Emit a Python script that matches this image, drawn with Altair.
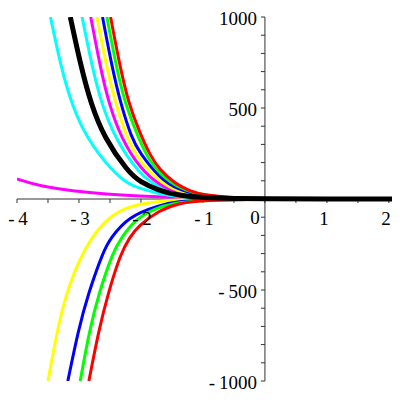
import altair as alt
import pandas as pd

# ---- data ----
X_DOMAIN = [-4.0, 2.05]
Y_DOMAIN = [-1000, 1000]

# positive branches
RED_X = [-2.49, -2.34, -2.20, -2.02, -1.86, -1.70, -1.45, -1.22, -1.0, -0.5, 0.0, 1.0, 2.05]
RED_Y = [1000, 730, 526, 365, 245, 160, 85, 45, 22, 6, 2, 0.3, 0]
GREEN_X = [-2.55, -2.40, -2.26, -2.02, -1.86, -1.70, -1.40, -1.0, -0.5, 0.0, 1.0, 2.05]
GREEN_Y = [1000, 730, 526, 315, 210, 140, 60, 20, 5, 2, 0.3, 0]
BLUE_X = [-2.62, -2.47, -2.33, -2.15, -2.02, -1.70, -1.40, -1.0, -0.5, 0.0, 1.0, 2.05]
BLUE_Y = [1000, 730, 526, 334, 253, 115, 50, 17, 4, 1.5, 0.2, 0]
YELLOW_X = [-2.71, -2.56, -2.41, -2.23, -2.02, -1.70, -1.40, -1.0, -0.5, 0.0, 1.0, 2.05]
YELLOW_Y = [1000, 730, 526, 334, 205, 95, 40, 14, 4, 1.2, 0.2, 0]
MAGENTA_X = [-2.81, -2.66, -2.52, -2.32, -2.02, -1.70, -1.40, -1.0, -0.5, 0.0, 1.0, 2.05]
MAGENTA_Y = [1000, 730, 526, 334, 170, 75, 32, 11, 3, 1, 0.1, 0]
CYAN2_X = [-2.95, -2.79, -2.64, -2.42, -2.02, -1.70, -1.40, -1.0, -0.5, 0.0, 1.0, 2.05]
CYAN2_Y = [1000, 730, 526, 334, 132, 60, 26, 9, 2.5, 1, 0.1, 0]
CYAN_X = [-3.46, -3.29, -3.12, -2.88, -2.46, -2.18, -2.02, -1.70, -1.40, -1.0, -0.5, 0.0, 1.0, 2.05]
CYAN_Y = [1000, 725, 522, 334, 150, 77, 59, 28, 13, 5, 1.5, 0.5, 0.1, 0]
BLACK_X = [-3.14, -2.97, -2.81, -2.59, -2.21, -2.02, -1.70, -1.40, -1.0, -0.5, 0.0, 1.0, 2.05]
BLACK_Y = [1000, 730, 526, 334, 150, 95, 45, 20, 7, 2, 0.7, 0.1, 0]
# slow magenta branch
MAG_SLOW_X = [-4.0, -3.63, -3.10, -2.55, -2.02, -1.5, -1.05, 0.0, 1.0, 2.05]
MAG_SLOW_Y = [110, 70, 44, 26, 16, 9, 5.5, 1, 0.2, 0]

# negative branches
RED_N_X = [-2.84, -2.68, -2.53, -2.33, -2.18, -2.05, -1.70, -1.38, -1.0, 0.0, 1.0, 2.05]
RED_N_Y = [-1000, -720, -518, -300, -210, -150, -60, -22, -6, -1, 0, 0]
GREEN_N_X = [-2.98, -2.83, -2.68, -2.45, -2.32, -2.10, -1.80, -1.48, -1.0, 0.0, 1.0, 2.05]
GREEN_N_Y = [-1000, -720, -518, -290, -215, -115, -55, -22, -6, -1, 0, 0]
BLUE_N_X = [-3.18, -3.01, -2.85, -2.61, -2.50, -2.21, -1.70, -1.40, -1.0, 0.0, 1.0, 2.05]
BLUE_N_Y = [-1000, -720, -518, -290, -220, -97, -33, -14, -4, -0.5, 0, 0]
YELLOW_N_X = [-3.50, -3.35, -3.21, -2.94, -2.56, -2.24, -2.02, -1.70, -1.40, -1.0, 0.0, 2.05]
YELLOW_N_Y = [-1000, -720, -522, -280, -105, -48, -28, -12, -5, -1.5, 0, 0]

X_TICKS = [-4, -3.5, -3, -2.5, -2, -1.5, -1, -0.5, 0, 0.5, 1, 1.5, 2]
Y_TICKS = [-1000, -900, -800, -700, -600, -500, -400, -300, -200, -100,
           100, 200, 300, 400, 500, 600, 700, 800, 900, 1000]
NEG_LABEL_VALUES = [-4, -3, -2, -1]
NEG_LABEL_TEXT = ["-\u20094", "-\u20093", "-\u20092", "-\u20091"]
POS_LABEL_VALUES = [1, 2]
POS_LABEL_TEXT = ["1", "2"]
ZERO_LABEL = ["0"]
Y_LABEL_VALUES = [1000, 500, -500, -1000]
Y_LABEL_TEXT = ["1000", "500", "-\u2009500", "-\u20091000"]

colored = [
    ("mag_slow", MAG_SLOW_X, MAG_SLOW_Y, "#ff00ff"),
    ("yellow_n", YELLOW_N_X, YELLOW_N_Y, "#ffff00"),
    ("blue_n", BLUE_N_X, BLUE_N_Y, "#0000ff"),
    ("green_n", GREEN_N_X, GREEN_N_Y, "#00ff00"),
    ("red_n", RED_N_X, RED_N_Y, "#ff0000"),
    ("cyan", CYAN_X, CYAN_Y, "#00ffff"),
    ("cyan2", CYAN2_X, CYAN2_Y, "#00ffff"),
    ("magenta", MAGENTA_X, MAGENTA_Y, "#ff00ff"),
    ("yellow", YELLOW_X, YELLOW_Y, "#ffff00"),
    ("blue", BLUE_X, BLUE_Y, "#0000ff"),
    ("green", GREEN_X, GREEN_Y, "#00ff00"),
    ("red", RED_X, RED_Y, "#ff0000"),
]

rows = []
for k, (name, xs_, ys_, _) in enumerate(colored):
    for i, (x, y) in enumerate(zip(xs_, ys_)):
        rows.append({"curve": name, "x": x, "y": y, "i": i, "k": k})
df_col = pd.DataFrame(rows)
df_black = pd.DataFrame({"x": BLACK_X, "y": BLACK_Y})

xs = alt.Scale(domain=X_DOMAIN, nice=False, zero=False)
ys = alt.Scale(domain=Y_DOMAIN, nice=False, zero=False)
FONT = "Liberation Serif"
FS = 19
AX = "#333333"

axis_x = alt.Chart(pd.DataFrame({"a": [X_DOMAIN[0]], "b": [X_DOMAIN[1]], "c": [0]})).mark_rule(
    color=AX, strokeWidth=1).encode(
    x=alt.X("a:Q", scale=xs, axis=None), x2="b:Q", y=alt.Y("c:Q", scale=ys, axis=None))
axis_y = alt.Chart(pd.DataFrame({"a": [Y_DOMAIN[0]], "b": [Y_DOMAIN[1]], "c": [0]})).mark_rule(
    color=AX, strokeWidth=1).encode(
    y=alt.Y("a:Q", scale=ys, axis=None), y2="b:Q", x=alt.X("c:Q", scale=xs, axis=None))

xt = alt.Chart(pd.DataFrame({"v": X_TICKS, "z": [0] * len(X_TICKS)})).mark_rule(
    color=AX, strokeWidth=1, y2Offset=4).encode(
    x=alt.X("v:Q", scale=xs, axis=None), y=alt.Y("z:Q", scale=ys, axis=None), y2="z:Q")
yt = alt.Chart(pd.DataFrame({"v": Y_TICKS, "z": [0] * len(Y_TICKS)})).mark_rule(
    color=AX, strokeWidth=1, x2Offset=-4).encode(
    y=alt.Y("v:Q", scale=ys, axis=None), x=alt.X("z:Q", scale=xs, axis=None), x2="z:Q")

lines = alt.Chart(df_col).mark_line(clip=True, strokeWidth=3, interpolate="basis").encode(
    x=alt.X("x:Q", scale=xs, axis=None),
    y=alt.Y("y:Q", scale=ys, axis=None),
    color=alt.Color("curve:N", scale=alt.Scale(domain=[c[0] for c in colored],
                                               range=[c[3] for c in colored]), legend=None),
    detail="k:Q",
    order="i:Q",
)
black = alt.Chart(df_black).mark_line(clip=True, strokeWidth=5, color="black",
                                      interpolate="basis").encode(
    x=alt.X("x:Q", scale=xs, axis=None), y=alt.Y("y:Q", scale=ys, axis=None))

def xlabels(values, texts, dx, dy=20):
    df = pd.DataFrame({"v": values, "t": texts, "z": [0] * len(values)})
    return alt.Chart(df).mark_text(
        font=FONT, fontSize=FS, color="black", align="center", baseline="middle",
        dy=dy, dx=dx).encode(
        x=alt.X("v:Q", scale=xs, axis=None), y=alt.Y("z:Q", scale=ys, axis=None), text="t:N")

xl_neg = xlabels(NEG_LABEL_VALUES, NEG_LABEL_TEXT, 1)
xl_pos = xlabels(POS_LABEL_VALUES, POS_LABEL_TEXT, -3)
zl = xlabels([0], ZERO_LABEL, -10, 19)

yl = alt.Chart(pd.DataFrame({"v": Y_LABEL_VALUES, "t": Y_LABEL_TEXT, "z": [0] * 4})).mark_text(
    font=FONT, fontSize=FS, color="black", align="right", baseline="middle", dx=-8, dy=2).encode(
    y=alt.Y("v:Q", scale=ys, axis=None), x=alt.X("z:Q", scale=xs, axis=None), text="t:N")

chart = alt.layer(axis_x, axis_y, xt, yt, lines, black, xl_neg, xl_pos, zl, yl).properties(
    width=375, height=364,
    padding={"left": 9, "top": 9, "right": 0, "bottom": 11},
    autosize=alt.AutoSizeParams(type="none"),
    background="white",
).configure_view(stroke=None)

chart.save("out.html", embed_options={"renderer": "svg", "actions": False})
